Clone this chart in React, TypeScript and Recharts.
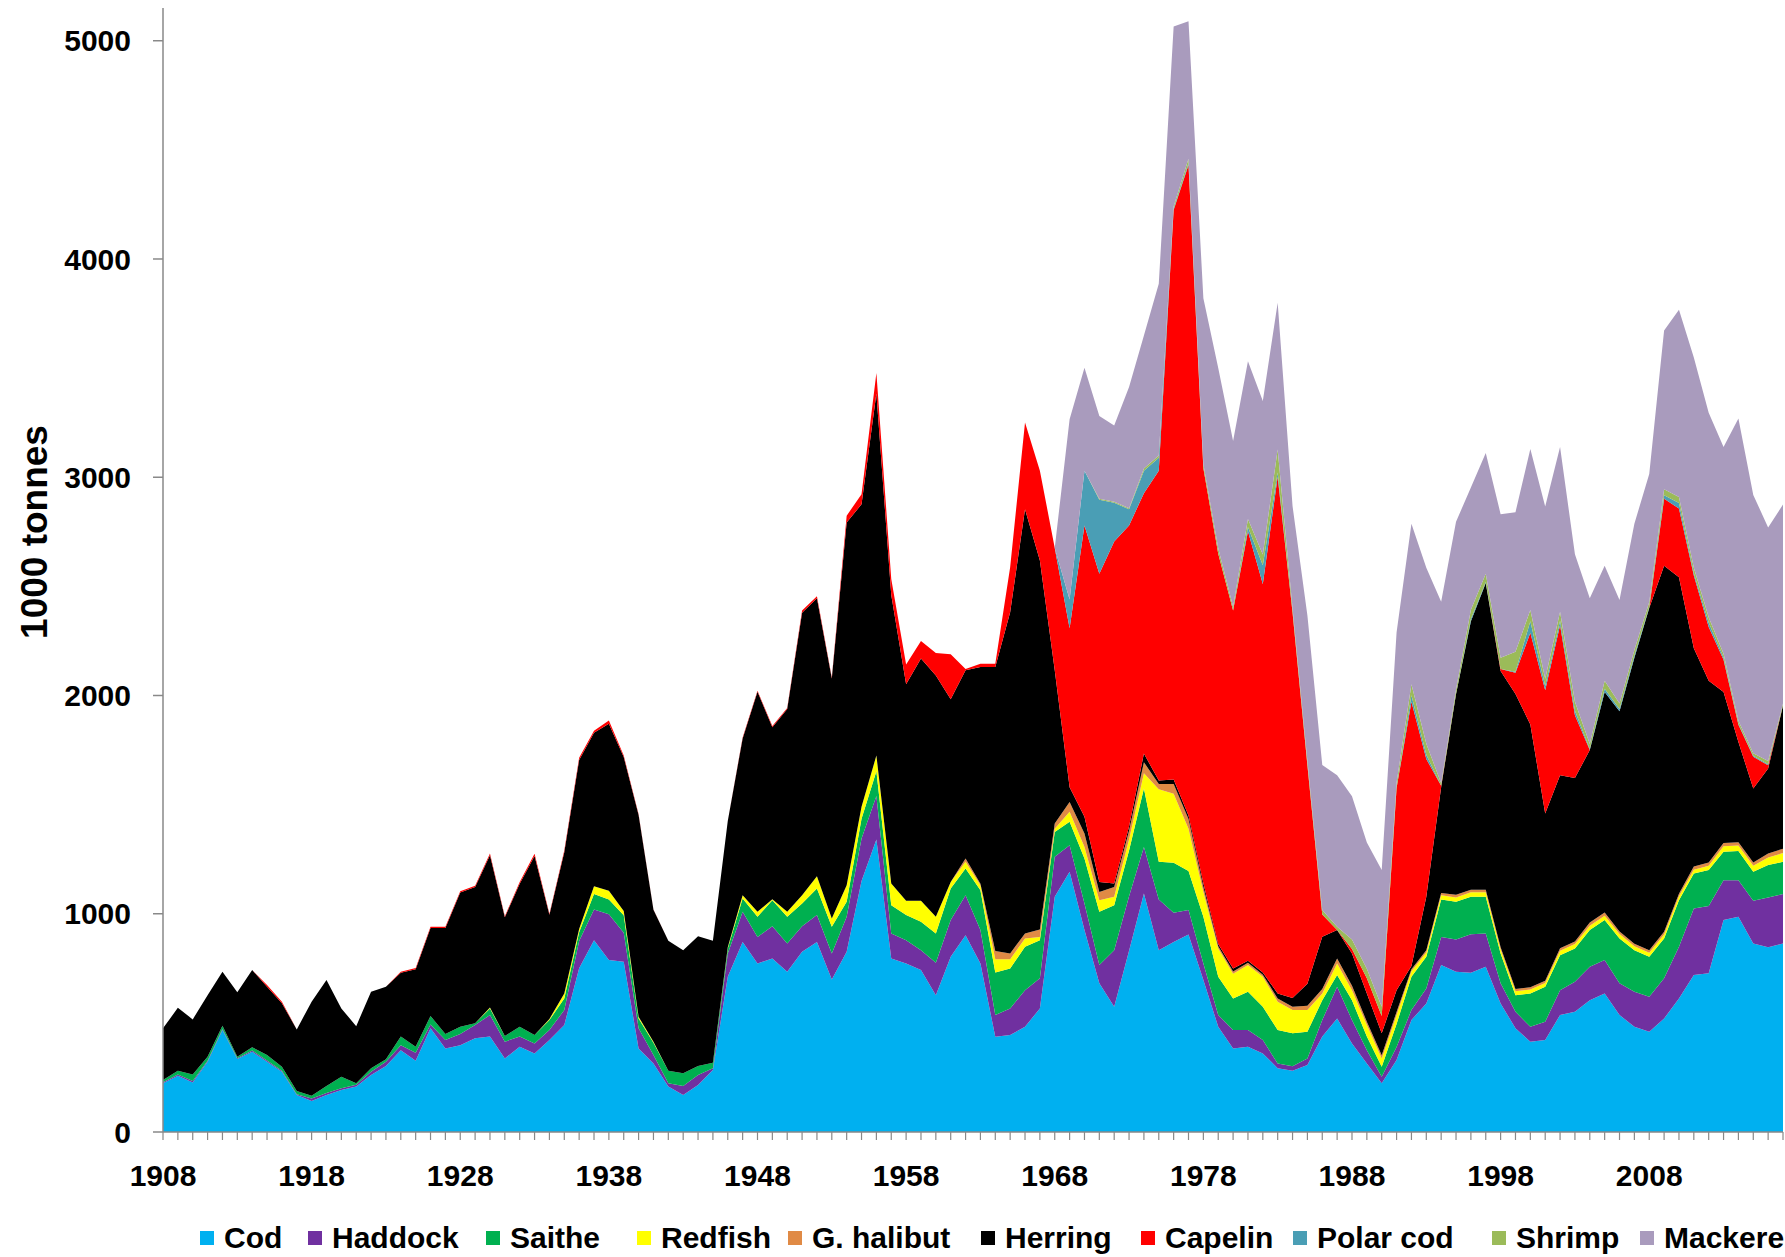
import React from 'react';
import { AreaChart, Area, XAxis, YAxis } from 'recharts';

const years: number[] = Array.from({ length: 110 }, (_, i) => 1908 + i);

const cod = [223,258,227,322,467,334,368,322,276,169,142,169,192,208,261,302,375,327,475,383,398,429,437,337,391,360,421,490,750,879,788,780,383,314,208,169,215,284,711,871,772,795,734,826,871,699,826,1150,1340,795,772,742,627,803,902,772,436,444,482,566,1078,1192,925,681,574,830,1093,833,871,905,696,482,383,391,360,292,281,307,437,520,406,314,223,330,513,589,765,734,730,757,589,475,414,421,536,551,604,635,536,482,459,520,612,719,727,971,986,864,846,864];
const haddock = [5,5,7,5,5,4,5,6,5,4,12,10,8,8,15,20,23,36,18,38,51,61,99,77,46,46,46,69,125,141,210,133,92,39,15,42,46,8,107,138,122,148,130,117,123,119,160,195,199,115,107,91,148,168,183,153,100,122,168,138,183,122,122,84,259,250,213,232,134,112,76,54,84,76,61,22,20,30,76,145,107,61,30,60,46,69,129,148,176,153,92,76,68,84,114,137,153,153,145,161,161,184,237,305,308,183,168,195,228,226];
const saithe = [10,18,30,18,15,7,15,25,18,15,12,32,53,7,16,11,39,28,38,28,33,8,30,26,45,38,46,53,40,70,67,80,45,56,58,58,41,25,23,61,92,119,122,104,122,122,69,90,114,129,115,130,135,145,122,183,195,183,199,175,114,107,206,244,206,210,268,173,229,179,214,175,145,176,153,153,151,122,91,54,91,62,46,105,152,145,171,173,172,168,137,76,153,160,160,153,168,183,206,190,183,183,213,160,165,130,134,133,149,148];
const redfish = [0,0,0,0,0,0,0,0,0,0,0,0,0,0,0,0,0,0,0,0,0,0,5,0,0,0,5,23,15,36,40,20,8,5,0,0,0,0,5,15,23,5,23,38,56,38,76,55,72,100,65,96,76,30,31,23,60,42,38,15,15,46,53,53,39,50,70,332,316,194,114,130,113,122,137,130,107,100,31,53,46,53,38,40,25,20,20,20,20,20,18,18,18,18,20,20,20,20,20,18,18,18,18,18,20,25,25,28,35,40];
const halibut = [0,0,0,0,0,0,0,0,0,0,0,0,0,0,0,0,0,0,0,0,0,0,0,0,0,0,0,0,0,0,0,0,0,0,0,0,0,0,0,0,0,0,0,0,0,0,0,0,0,0,0,0,0,0,15,7,38,27,23,34,23,45,62,38,45,40,50,25,45,44,23,10,10,10,10,15,15,20,20,23,20,15,15,15,10,10,10,12,12,12,10,10,10,10,12,12,15,15,12,12,12,12,12,15,15,15,15,15,18,20];
const herring = [237,288,252,282,247,295,354,312,291,282,431,485,313,262,351,332,293,355,404,486,615,624,697,544,656,821,477,647,775,703,765,705,925,604,595,564,595,559,579,718,1008,788,929,1294,1273,1100,1662,1386,1659,1322,993,1111,1106,837,863,993,1302,1563,1943,1690,703,68,77,46,16,20,40,15,20,16,17,10,14,10,10,23,40,100,240,130,148,130,100,100,15,245,486,920,1230,1405,1266,1352,1204,766,793,749,790,1010,1009,1310,1568,1677,1450,1000,833,692,459,339,389,656];
const capelin = [0,0,0,0,0,0,0,8,7,0,0,0,0,0,0,0,4,5,5,5,6,6,8,5,7,10,5,8,10,10,15,7,3,2,0,0,0,0,0,5,5,5,5,10,10,5,31,46,94,73,90,80,103,206,5,15,15,207,398,412,560,728,1334,1412,1567,1379,1193,1420,2610,2981,1901,1789,1641,1967,1780,2367,1766,1001,102,0,20,70,80,926,1210,631,5,0,0,0,9,97,420,565,687,288,0,0,0,0,0,307,315,333,246,148,79,145,15,0];
const polarCod = [0,0,0,0,0,0,0,0,0,0,0,0,0,0,0,0,0,0,0,0,0,0,0,0,0,0,0,0,0,0,0,0,0,0,0,0,0,0,0,0,0,0,0,0,0,0,0,0,0,0,0,0,0,0,0,0,0,0,0,0,0,132,251,339,177,74,103,59,5,8,0,0,0,20,86,20,0,0,0,0,0,0,0,0,30,20,0,0,10,5,0,5,53,20,20,20,5,15,10,10,5,17,25,10,20,10,5,5,5,0];
const shrimp = [0,0,0,0,0,0,0,0,0,0,0,0,0,0,0,0,0,0,0,0,0,0,0,0,0,0,0,0,0,0,0,0,0,0,0,0,0,0,0,0,0,0,0,0,0,0,0,0,0,0,0,0,0,0,0,0,0,0,0,0,0,0,0,5,5,5,10,11,10,20,19,25,15,37,49,105,20,20,20,15,44,43,42,24,50,50,12,20,43,38,52,91,52,33,42,41,23,37,25,25,22,27,27,25,24,17,13,11,15,9];
const mackerel = [0,0,0,0,0,0,0,0,0,0,0,0,0,0,0,0,0,0,0,0,0,0,0,0,0,0,0,0,0,0,0,0,0,0,0,0,0,0,0,0,0,0,0,0,0,0,0,0,0,0,0,0,0,0,0,0,0,0,0,0,0,826,472,379,349,556,610,786,825,630,760,825,761,723,703,673,468,666,665,695,656,578,627,689,736,806,832,769,560,553,658,640,737,789,754,676,668,526,474,579,587,727,859,964,937,947,1385,1184,1070,912];

const yTicks = [0, 1000, 2000, 3000, 4000, 5000];

const series = [
  { key: 'cod', name: 'Cod', color: '#00B0F0', values: cod },
  { key: 'haddock', name: 'Haddock', color: '#7030A0', values: haddock },
  { key: 'saithe', name: 'Saithe', color: '#00B050', values: saithe },
  { key: 'redfish', name: 'Redfish', color: '#FFFF00', values: redfish },
  { key: 'halibut', name: 'G. halibut', color: '#E08A45', values: halibut },
  { key: 'herring', name: 'Herring', color: '#000000', values: herring },
  { key: 'capelin', name: 'Capelin', color: '#FF0000', values: capelin },
  { key: 'polarCod', name: 'Polar cod', color: '#4A9EB5', values: polarCod },
  { key: 'shrimp', name: 'Shrimp', color: '#9BBB59', values: shrimp },
  { key: 'mackerel', name: 'Mackerel', color: '#A99BBD', values: mackerel },
];

const legendX = [200, 308, 486, 637, 788, 981, 1141, 1293, 1492, 1640];

const rows = years.map((y, i) => {
  const r: Record<string, number> = { year: y };
  series.forEach((s) => { r[s.key] = s.values[i]; });
  return r;
});

const FONT = '"Liberation Sans", Arial, sans-serif';

export default function App() {
  return (
    <div style={{ position: 'absolute', left: 0, top: 0, width: 1785, height: 1257, overflow: 'hidden', background: '#fff', fontFamily: FONT }}>
      <AreaChart width={1785} height={1257} data={rows} margin={{ top: 8, right: 2, left: 0, bottom: 0 }}>
        <XAxis
          dataKey="year"
          type="number"
          domain={[1908, 2017]}
          ticks={years}
          interval={0}
          height={125}
          tickSize={8}
          tickMargin={25}
          tickFormatter={(v: number) => ((v - 1908) % 10 === 0 ? String(v) : '')}
          axisLine={{ stroke: '#898989', strokeWidth: 1.5 }}
          tickLine={{ stroke: '#898989', strokeWidth: 1.2 }}
          tick={{ fill: '#000', fontSize: 30, fontWeight: 'bold', fontFamily: FONT }}
        />
        <YAxis
          type="number"
          domain={[0, 5150]}
          ticks={yTicks}
          interval={0}
          width={163}
          tickSize={10}
          tickMargin={22}
          axisLine={{ stroke: '#898989', strokeWidth: 1.5 }}
          tickLine={{ stroke: '#898989', strokeWidth: 1.5 }}
          tick={{ fill: '#000', fontSize: 30, fontWeight: 'bold', fontFamily: FONT }}
        />
        {series.map((s) => (
          <Area
            key={s.key}
            type="linear"
            dataKey={s.key}
            name={s.name}
            stackId="1"
            stroke="none"
            fill={s.color}
            fillOpacity={1}
            isAnimationActive={false}
          />
        ))}
      </AreaChart>
      <div
        style={{
          position: 'absolute', left: 34, top: 532, transform: 'translate(-50%, -50%) rotate(-90deg)',
          fontSize: 37, fontWeight: 'bold', whiteSpace: 'nowrap', color: '#000', lineHeight: 1,
        }}
      >
        1000 tonnes
      </div>
      {series.map((s, i) => (
        <div key={s.key} style={{ position: 'absolute', left: legendX[i], top: 1238, transform: 'translateY(-50%)', display: 'flex', alignItems: 'center', whiteSpace: 'nowrap' }}>
          <span style={{ display: 'inline-block', width: 14, height: 14, background: s.color, marginRight: 10 }} />
          <span style={{ fontSize: 30, fontWeight: 'bold', color: '#000', lineHeight: 1 }}>{s.name}</span>
        </div>
      ))}
    </div>
  );
}
